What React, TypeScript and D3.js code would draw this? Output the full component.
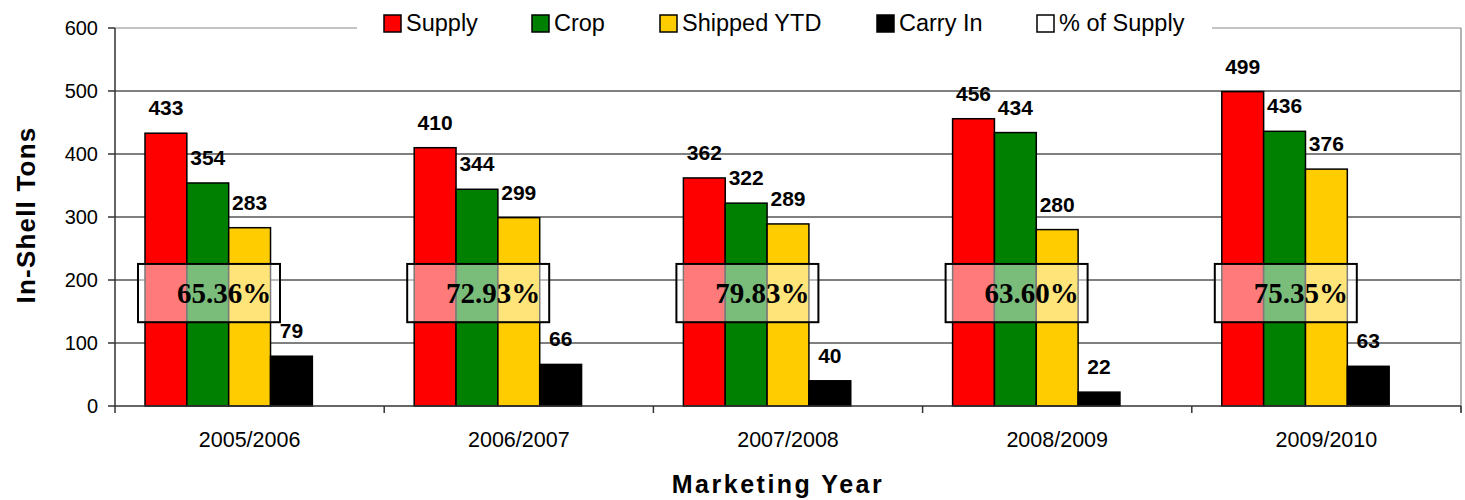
import React from "react";
import * as d3 from "d3";

const years = ["2005/2006", "2006/2007", "2007/2008", "2008/2009", "2009/2010"];
const supply = [433, 410, 362, 456, 499];
const crop = [354, 344, 322, 434, 436];
const shipped = [283, 299, 289, 280, 376];
const carryIn = [79, 66, 40, 22, 63];
const pctOfSupply = [65.36, 72.93, 79.83, 63.6, 75.35];
const yTicks = [0, 100, 200, 300, 400, 500, 600];

const seriesNames = ["Supply", "Crop", "Shipped YTD", "Carry In", "% of Supply"];
const seriesColors = ["#FF0000", "#008000", "#FFCC00", "#000000", "#FFFFFF"];

const W = 1465;
const H = 500;
const left = 115;
const right = 1461;
const top = 28;
const bottom = 406;

export default function App() {
  const x = d3.scaleBand<string>().domain(years).range([left, right]).padding(0);
  const inner = d3
    .scaleBand<string>()
    .domain(seriesNames)
    .range([30, x.bandwidth() - 30])
    .padding(0);
  const y = d3.scaleLinear().domain([0, 600]).range([bottom, top]);

  const barSeries = [supply, crop, shipped, carryIn];
  const boxTop = y(225.5);
  const boxBot = y(133);
  const boxW = 142;

  const legendItems = [
    { name: "Supply", color: seriesColors[0], sx: 384, tx: 406 },
    { name: "Crop", color: seriesColors[1], sx: 532, tx: 554 },
    { name: "Shipped YTD", color: seriesColors[2], sx: 660, tx: 682 },
    { name: "Carry In", color: seriesColors[3], sx: 877, tx: 899 },
    { name: "% of Supply", color: seriesColors[4], sx: 1037, tx: 1059 },
  ];

  return (
    <svg
      width={W}
      height={H}
      style={{ position: "absolute", left: 0, top: 0, display: "block", background: "#fff" }}
      fontFamily="Arial, 'Liberation Sans', sans-serif"
    >
      {/* gridlines */}
      {yTicks.filter((t) => t > 0).map((t) => (
        <line
          key={t}
          x1={left}
          x2={right}
          y1={y(t)}
          y2={y(t)}
          stroke={t === 600 ? "#888" : "#000"}
          strokeWidth={1}
        />
      ))}
      {/* right border */}
      <line x1={right} x2={right} y1={top} y2={bottom + 6} stroke="#999" strokeWidth={1.5} />

      {/* bars */}
      {years.map((yr, i) => (
        <g key={yr} transform={`translate(${x(yr)},0)`}>
          {barSeries.map((s, j) => (
            <rect
              key={j}
              x={inner(seriesNames[j])}
              y={y(s[i])}
              width={inner.bandwidth()}
              height={y(0) - y(s[i])}
              fill={seriesColors[j]}
              stroke="#000"
              strokeWidth={1.5}
            />
          ))}
          {barSeries.map((s, j) => (
            <text
              key={"l" + j}
              x={(inner(seriesNames[j]) as number) + inner.bandwidth() / 2}
              y={y(s[i]) - 18}
              textAnchor="middle"
              fontWeight="bold"
              fontSize={21}
              fill="#000"
            >
              {s[i]}
            </text>
          ))}
        </g>
      ))}

      {/* percent boxes */}
      {years.map((yr, i) => {
        const bx = (x(yr) as number) + (inner(seriesNames[0]) as number) - 7;
        return (
          <g key={"p" + yr}>
            <rect
              x={bx}
              y={boxTop}
              width={boxW}
              height={boxBot - boxTop}
              fill="#fff"
              fillOpacity={0.48}
              stroke="#000"
              strokeWidth={2}
            />
            <text
              x={bx + 86}
              y={(boxTop + boxBot) / 2 + 10}
              textAnchor="middle"
              fontFamily="'Liberation Serif', 'Times New Roman', serif"
              fontWeight="bold"
              fontSize={29}
              fill="#000"
            >
              {pctOfSupply[i].toFixed(2)}%
            </text>
          </g>
        );
      })}

      {/* axes */}
      <line x1={left} x2={left} y1={top} y2={bottom} stroke="#333" strokeWidth={1.5} />
      <line x1={left} x2={right} y1={bottom} y2={bottom} stroke="#333" strokeWidth={1.5} />
      {yTicks.map((t) => (
        <g key={"yt" + t}>
          <line x1={left - 7} x2={left} y1={y(t)} y2={y(t)} stroke="#333" strokeWidth={1.5} />
          <text x={left - 17} y={y(t) + 7} textAnchor="end" fontSize={20} fill="#000">
            {t}
          </text>
        </g>
      ))}
      {[...years.map((yr) => x(yr) as number), right].map((px, k) => (
        <line key={"xt" + k} x1={px} x2={px} y1={bottom} y2={bottom + 7} stroke="#333" strokeWidth={1.5} />
      ))}
      {years.map((yr) => (
        <text
          key={"xl" + yr}
          x={(x(yr) as number) + x.bandwidth() / 2}
          y={447}
          textAnchor="middle"
          fontSize={21.5}
          fill="#000"
        >
          {yr}
        </text>
      ))}

      {/* axis titles */}
      <text
        transform={`translate(35,215) rotate(-90)`}
        textAnchor="middle"
        fontWeight="bold"
        fontSize={26}
        letterSpacing={1.2}
        fill="#000"
      >
        In-Shell Tons
      </text>
      <text x={778} y={493} textAnchor="middle" fontWeight="bold" fontSize={25} letterSpacing={2.5} fill="#000">
        Marketing Year
      </text>

      {/* legend */}
      <rect x={357} y={0} width={855} height={38} fill="#fff" />
      {legendItems.map((it) => (
        <g key={it.name}>
          <rect x={it.sx} y={15} width={17} height={17} fill={it.color} stroke="#000" strokeWidth={1.5} />
          <text x={it.tx} y={31} fontSize={23.5} fill="#000">
            {it.name}
          </text>
        </g>
      ))}
    </svg>
  );
}
